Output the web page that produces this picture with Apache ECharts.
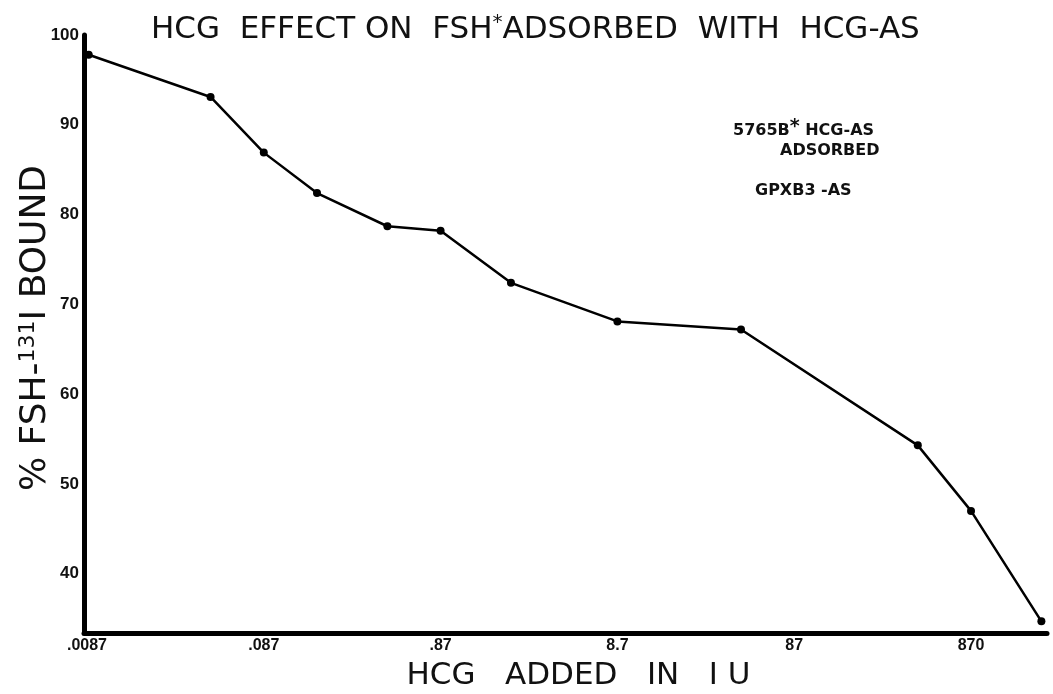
<!DOCTYPE html>
<html lang="en">
  <head>
    <meta charset="UTF-8" />
    <title>HCG effect on FSH adsorbed with HCG-AS</title>
    <script src="https://cdn.jsdelivr.net/npm/echarts@6.0.0/dist/echarts.min.js"></script>
    <style>
      html,
      body {
        width: 100%;
        height: 100%;
        margin: 0;
        padding: 0;
        background: #fff;
      }
    </style>
  </head>
  <body>
    <div id="main" style="width: 1053px; height: 694px"></div>
    <script type="text/javascript">
      // HCG added (IU) and % FSH-131I bound
      var hcgAdded = [0.0089, 0.0435, 0.087, 0.174, 0.435, 0.87, 2.175, 8.7, 43.5, 435, 870, 2175];
      var pctBound = [97.8, 93.1, 86.9, 82.4, 78.7, 78.2, 72.4, 68.1, 67.2, 54.3, 47.0, 34.7];
      var xTicks = [0.0087, 0.087, 0.87, 8.7, 87, 870];
      var xTickText = [".0087", ".087", ".87", "8.7", "87", "870"];
      var yTicks = [40, 50, 60, 70, 80, 90, 100];

      var points = hcgAdded.map(function (x, i) {
        return [x, pctBound[i]];
      });

      var font = "DejaVu Sans";
      var myChart = echarts.init(document.getElementById("main"));
      var option = {
        animation: false,
        backgroundColor: "#fff",
        title: {
          text: "HCG  EFFECT ON  FSH{s|*}ADSORBED  WITH  HCG-AS",
          left: 146,
          top: 8,
          textStyle: {
            fontFamily: font,
            fontWeight: "normal",
            fontSize: 31,
            color: "#111",
            rich: {
              s: { fontFamily: font, fontSize: 20, verticalAlign: "top", padding: [0, 0, 14, 0], color: "#111" },
            },
          },
        },
        grid: { left: 84, right: 6, top: 35, bottom: 61, outerBoundsMode: "none", containLabel: false },
        xAxis: {
          type: "log",
          min: 0.00837,
          max: 2340,
          name: "HCG   ADDED   IN   I U",
          nameLocation: "middle",
          nameGap: 27,
          nameMoveOverlap: false,
          nameTextStyle: { fontFamily: font, fontSize: 31, color: "#111", padding: [0, 0, 0, 26] },
          axisLine: { lineStyle: { color: "#000", width: 5 } },
          axisTick: { show: false },
          splitLine: { show: false },
          axisLabel: {
            customValues: xTicks,
            margin: 5,
            fontFamily: "Liberation Sans",
            fontWeight: "bold",
            fontSize: 16,
            color: "#111",
            formatter: function (v) {
              for (var i = 0; i < xTicks.length; i++) {
                if (Math.abs(v / xTicks[i] - 1) < 0.01) return xTickText[i];
              }
              return "";
            },
          },
        },
        yAxis: {
          type: "value",
          min: 33.4,
          max: 100,
          name: "{a|% FSH-}{s|131}{a|I BOUND}",
          nameLocation: "middle",
          nameRotate: 90,
          nameGap: 29,
          nameMoveOverlap: false,
          nameTextStyle: {
            color: "#111",
            padding: [0, 0, 0, 12],
            rich: {
              a: { fontFamily: font, fontSize: 36, color: "#111" },
              s: { fontFamily: font, fontSize: 22, color: "#111", verticalAlign: "top", padding: [0, 0, 16, 0] },
            },
          },
          axisLine: { show: true, lineStyle: { color: "#000", width: 5 } },
          axisTick: { show: false },
          splitLine: { show: false },
          axisLabel: {
            customValues: yTicks,
            margin: 5,
            fontFamily: "Liberation Sans",
            fontWeight: "bold",
            fontSize: 17,
            color: "#111",
          },
        },
        graphic: [
          {
            type: "text",
            left: 733,
            top: 118,
            style: {
              text: "5765B{s|*} HCG-AS",
              fontFamily: font,
              fontWeight: "bold",
              fontSize: 16,
              fill: "#111",
              rich: { s: { fontFamily: font, fontSize: 19, fontWeight: "bold", verticalAlign: "top", padding: [0, 0, 6, 0] } },
            },
          },
          {
            type: "text",
            left: 780,
            top: 143,
            style: { text: "ADSORBED", fontFamily: font, fontWeight: "bold", fontSize: 16, fill: "#111" },
          },
          {
            type: "text",
            left: 755,
            top: 183,
            style: { text: "GPXB3 -AS", fontFamily: font, fontWeight: "bold", fontSize: 16, fill: "#111" },
          },
        ],
        series: [
          {
            type: "line",
            data: points,
            symbol: "circle",
            symbolSize: 8,
            itemStyle: { color: "#000" },
            lineStyle: { color: "#000", width: 2.5 },
          },
        ],
      };
      myChart.setOption(option);
    </script>
  </body>
</html>
